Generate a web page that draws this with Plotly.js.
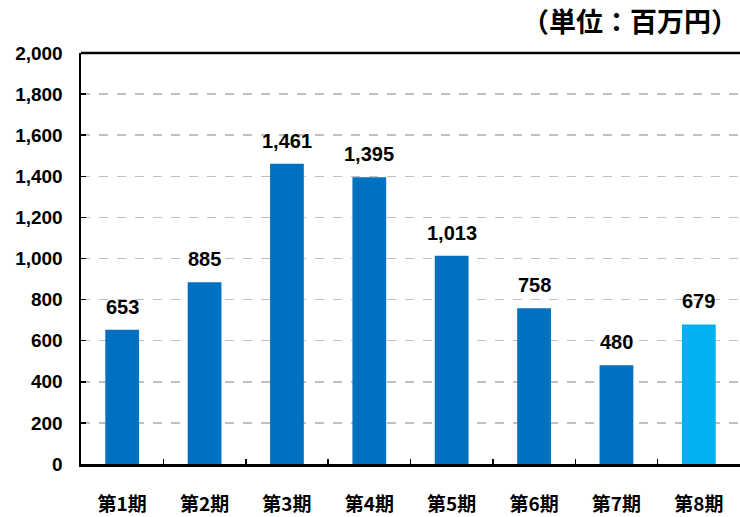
<!DOCTYPE html>
<html>
<head>
<meta charset="utf-8">
<script src="https://cdn.plot.ly/plotly-3.0.1.min.js"></script>
<style>html,body{margin:0;padding:0;background:#fff;}#chart{width:740px;height:517px;}</style>
</head>
<body>
<div id="chart"></div>
<script>
const categories = ["第1期","第2期","第3期","第4期","第5期","第6期","第7期","第8期"];
const values = [653, 885, 1461, 1395, 1013, 758, 480, 679];
const barColors = ["#0070C0","#0070C0","#0070C0","#0070C0","#0070C0","#0070C0","#0070C0","#00B0F0"];
const yTickVals = [0,200,400,600,800,1000,1200,1400,1600,1800,2000];
const yTickText = ["0","200","400","600","800","1,000","1,200","1,400","1,600","1,800","2,000"];
const unitLabel = "（単位：百万円）";

const numFont = "'Liberation Sans', Arial, sans-serif";
const cjkFont = "'Noto Sans CJK JP', 'Noto Sans', sans-serif";

function fmt(v){ return v.toLocaleString('en-US'); }

const trace = {
  type: 'bar',
  x: categories,
  y: values,
  marker: {color: barColors, line: {width: 0}},
  hoverinfo: 'none'
};

const annotations = categories.map((c, i) => ({
  x: c, y: values[i], xref: 'x', yref: 'y',
  text: '<b>' + fmt(values[i]) + '</b>',
  showarrow: false, yanchor: 'bottom', yshift: 10,
  font: {family: numFont, size: 20, color: '#000'}
}));
annotations.push({
  xref: 'paper', yref: 'paper', x: 1, y: 1, xanchor: 'right', yanchor: 'bottom',
  xshift: 0, yshift: 11,
  text: '<b>' + unitLabel + '</b>', showarrow: false,
  font: {family: cjkFont, size: 27, color: '#000'}
});

const layout = {
  width: 740, height: 517,
  margin: {l: 81, r: 0, t: 53, b: 53, pad: 0},
  paper_bgcolor: '#fff', plot_bgcolor: '#fff',
  showlegend: false,
  bargap: 0.59,
  xaxis: {
    type: 'category',
    showline: true, linecolor: '#000', linewidth: 2.5,
    ticks: 'inside', tickson: 'boundaries', ticklen: 5, tickwidth: 1.5, tickcolor: '#000',
    showgrid: false, zeroline: false,
    tickfont: {family: cjkFont, size: 19, color: '#000', weight: 'bold'},
    ticklabelstandoff: 22,
    fixedrange: true
  },
  yaxis: {
    range: [0, 2000],
    tickmode: 'array', tickvals: yTickVals, ticktext: yTickText,
    showline: true, linecolor: '#000', linewidth: 2.5,
    ticks: 'inside', ticklen: 5, tickwidth: 1.5, tickcolor: '#000',
    showgrid: true, gridcolor: '#BFBFBF', gridwidth: 1.5, griddash: 'dash',
    zeroline: false,
    tickfont: {family: numFont, size: 19, color: '#000', weight: 'bold'},
    ticklabelstandoff: 12,
    fixedrange: true
  },
  shapes: [{
    type: 'line', xref: 'paper', yref: 'paper', x0: 0, x1: 1, y0: 1, y1: 1,
    line: {color: '#000', width: 2.5}
  }],
  annotations: annotations
};

Plotly.newPlot('chart', [trace], layout, {displayModeBar: false, staticPlot: true});
</script>
</body>
</html>
